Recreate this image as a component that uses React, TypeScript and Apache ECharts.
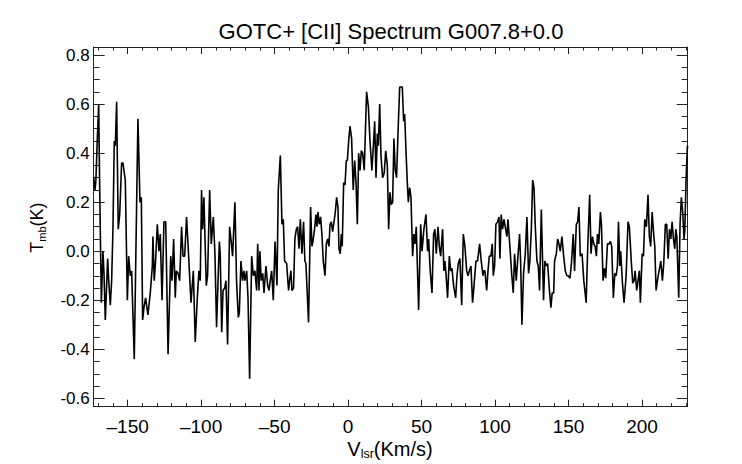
import React, { useEffect, useRef } from "react";
import * as echarts from "echarts";

const chartTitle = "GOTC+ [CII] Spectrum G007.8+0.0";

// V_lsr (km/s) of each channel vertex
const velocity = [
  -173.1, -172.2, -171.6, -170.7, -169.7, -169.1, -167.9, -166.8, -166.1, -165.2,
  -163.6, -162.9, -161.8, -160.9, -160.0, -159.1, -158.4, -157.5, -156.4, -155.4,
  -154.1, -153.2, -151.6, -150.2, -149.3, -148.2, -147.3, -145.5, -143.0, -141.6,
  -140.7, -139.8, -138.9, -137.8, -136.2, -134.6, -133.2, -132.8, -131.9, -131.0,
  -129.8, -128.7, -127.8, -126.6, -125.3, -124.1, -122.5, -120.7, -119.8, -118.7,
  -117.6, -116.9, -115.7, -114.6, -113.3, -112.3, -111.2, -109.9, -108.5, -106.9,
  -105.3, -104.0, -102.6, -101.5, -100.6, -99.7, -99.0, -98.1, -96.5, -95.6,
  -94.2, -93.1, -91.7, -90.6, -89.5, -87.6, -87.0, -86.0, -85.1, -84.0,
  -83.1, -82.0, -80.6, -79.7, -78.6, -77.0, -75.9, -74.7, -74.0, -72.9,
  -71.8, -70.9, -70.2, -69.0, -68.1, -67.0, -65.6, -64.5, -63.4, -62.2,
  -61.5, -60.6, -60.0, -59.1, -58.1, -57.2, -55.9, -54.7, -53.8, -53.2,
  -52.0, -50.9, -49.7, -48.4, -47.5, -46.1, -45.0, -44.1, -43.2, -41.8,
  -40.5, -39.8, -38.9, -38.2, -37.1, -36.2, -35.2, -34.3, -33.4, -32.5,
  -31.4, -30.3, -29.4, -28.7, -27.8, -26.9, -25.5, -24.6, -23.9, -22.8,
  -21.9, -21.2, -20.5, -19.6, -18.7, -17.8, -16.9, -15.7, -14.8, -13.9,
  -13.0, -12.3, -11.4, -10.5, -9.8, -8.7, -7.8, -6.9, -6.2, -5.3,
  -4.6, -4.0, -3.0, -2.1, -1.2, -0.5, 0.4, 1.3, 2.4, 3.5,
  4.5, 5.4, 6.3, 7.2, 8.1, 9.0, 9.9, 11.0, 12.6, 13.8,
  14.9, 16.2, 17.2, 18.1, 19.0, 19.9, 20.6, 21.5, 22.4, 23.5,
  24.6, 25.6, 26.7, 27.6, 28.5, 29.4, 30.3, 31.2, 32.1, 33.0,
  33.9, 35.1, 36.0, 36.9, 37.8, 38.5, 39.4, 40.3, 41.0, 41.9,
  42.8, 43.9, 44.8, 45.5, 46.4, 48.0, 49.4, 50.3, 51.6, 53.0,
  54.1, 54.8, 55.9, 57.1, 58.2, 59.1, 60.0, 61.2, 62.1, 63.0,
  64.3, 65.2, 65.9, 66.6, 67.7, 68.9, 69.8, 70.7, 71.8, 73.2,
  74.1, 75.0, 76.1, 77.3, 78.4, 79.5, 80.7, 81.6, 82.5, 83.6,
  84.7, 85.7, 87.0, 88.1, 89.5, 90.6, 91.8, 92.2, 93.1, 94.3,
  95.2, 96.1, 97.2, 98.1, 98.8, 99.7, 100.6, 101.7, 102.7, 103.3,
  104.2, 105.1, 106.1, 107.2, 108.1, 108.8, 110.1, 111.3, 112.4, 113.3,
  114.4, 115.6, 116.7, 117.4, 118.3, 119.4, 120.6, 121.7, 122.8, 123.7,
  124.7, 125.6, 126.5, 127.4, 128.5, 129.4, 130.3, 131.5, 133.0, 133.9,
  134.9, 135.8, 136.9, 138.0, 138.9, 139.9, 140.5, 141.7, 142.6, 143.5,
  144.4, 145.5, 146.7, 147.8, 148.9, 149.8, 151.0, 152.1, 153.2, 154.1,
  155.3, 156.2, 157.1, 158.0, 159.2, 160.4, 162.0, 163.1, 164.4, 165.3,
  166.3, 167.2, 168.1, 169.0, 169.7, 170.6, 171.7, 172.4, 173.5, 174.4,
  175.3, 176.5, 177.6, 178.5, 179.4, 180.5, 181.5, 182.4, 183.3, 184.0,
  184.9, 185.5, 186.7, 187.8, 189.2, 190.5, 191.4, 192.8, 193.7, 194.6,
  195.3, 196.4, 197.3, 198.2, 198.9, 200.1, 201.0, 201.9, 203.0, 204.1,
  205.0, 205.9, 206.9, 207.8, 208.7, 209.6, 210.5, 211.6, 212.8, 213.9,
  214.8, 215.9, 216.8, 217.8, 218.7, 219.6, 220.5, 221.4, 222.3, 223.0,
  223.7, 225.0, 225.9, 226.8, 227.7, 228.6, 229.1, 230.0, 230.9, 231.1,
];

// T_mb (K) at each vertex
const tmb = [
  0.30, 0.25, 0.29, 0.45, 0.60, 0.29, -0.21, 0.00, -0.09, -0.28,
  -0.03, -0.12, -0.22, -0.12, 0.09, 0.45, 0.43, 0.61, 0.09, 0.15,
  0.36, 0.36, 0.29, -0.20, -0.02, -0.10, -0.08, -0.44, 0.54, 0.20,
  0.22, -0.28, -0.23, -0.19, -0.26, -0.17, -0.06, 0.06, -0.12, -0.04,
  0.11, 0.00, 0.07, -0.20, 0.12, 0.12, -0.42, -0.02, -0.12, 0.05,
  -0.19, -0.08, -0.09, -0.12, 0.10, -0.02, -0.02, 0.14, -0.02, -0.21,
  -0.08, -0.37, -0.19, -0.08, -0.12, 0.25, 0.09, 0.22, -0.14, -0.10,
  0.25, 0.03, 0.14, -0.01, -0.31, 0.04, -0.01, -0.33, -0.16, -0.15,
  -0.12, -0.38, 0.10, 0.05, -0.02, 0.20, -0.12, -0.27, -0.25, -0.04,
  -0.12, -0.08, -0.12, -0.08, -0.19, -0.52, -0.02, -0.10, -0.08, -0.16,
  0.03, -0.16, 0.00, -0.12, -0.09, -0.17, -0.06, -0.14, -0.16, -0.13,
  -0.08, -0.20, 0.04, -0.14, 0.25, 0.39, 0.11, 0.13, -0.04, -0.05,
  -0.16, -0.12, -0.08, -0.16, -0.15, 0.05, 0.09, 0.10, 0.01, 0.13,
  -0.01, 0.12, -0.04, -0.05, -0.17, -0.29, 0.18, 0.02, 0.04, 0.09,
  0.15, 0.10, 0.16, 0.11, 0.14, 0.07, -0.04, -0.10, 0.03, 0.05,
  0.02, 0.11, 0.12, 0.08, 0.11, 0.16, 0.22, 0.18, 0.01, -0.01,
  0.07, 0.02, 0.28, 0.27, 0.37, 0.37, 0.45, 0.51, 0.46, 0.25,
  0.37, 0.28, 0.11, 0.40, 0.33, 0.41, 0.40, 0.33, 0.65, 0.59,
  0.45, 0.33, 0.43, 0.53, 0.30, 0.48, 0.43, 0.60, 0.39, 0.30,
  0.32, 0.41, 0.35, 0.09, 0.24, 0.19, 0.20, 0.46, 0.33, 0.30,
  0.47, 0.67, 0.67, 0.67, 0.53, 0.56, 0.41, 0.28, 0.20, 0.26,
  0.22, -0.02, 0.07, 0.03, 0.10, -0.24, 0.11, 0.00, 0.09, 0.15,
  0.00, 0.05, -0.08, -0.17, 0.07, 0.09, -0.01, 0.10, 0.02, -0.02,
  0.09, -0.08, -0.04, -0.09, -0.19, -0.02, -0.08, -0.07, -0.14, -0.19,
  -0.10, -0.05, -0.03, -0.22, 0.07, 0.02, -0.08, -0.10, -0.08, -0.06,
  -0.21, -0.14, -0.04, -0.04, 0.03, -0.04, -0.10, -0.08, -0.08, -0.16,
  -0.08, -0.02, -0.02, 0.03, -0.10, -0.06, 0.11, 0.12, 0.14, -0.03,
  0.15, 0.09, 0.13, 0.09, 0.06, 0.13, 0.02, -0.09, -0.17, -0.01,
  -0.12, -0.02, 0.07, -0.04, -0.30, -0.09, -0.01, 0.14, -0.09, -0.04,
  0.09, 0.29, 0.26, 0.10, -0.04, -0.06, -0.16, 0.17, -0.20, -0.04,
  -0.06, -0.05, -0.15, -0.23, -0.17, -0.17, -0.04, -0.01, 0.05, 0.03,
  0.00, 0.06, -0.02, -0.08, -0.10, -0.10, -0.11, -0.04, 0.07, -0.08,
  0.11, 0.12, 0.18, -0.02, -0.01, -0.12, -0.21, 0.02, 0.23, -0.01,
  0.06, 0.03, 0.02, -0.02, 0.07, 0.03, 0.16, 0.11, -0.12, -0.07,
  -0.11, 0.03, 0.03, 0.04, 0.02, -0.19, -0.09, -0.10, -0.06, 0.12,
  -0.06, 0.00, -0.13, -0.21, -0.10, 0.12, 0.10, -0.05, -0.13, -0.12,
  -0.08, -0.16, -0.12, -0.08, -0.21, -0.01, -0.02, 0.13, 0.10, 0.23,
  0.06, 0.02, 0.16, 0.08, 0.02, -0.16, -0.12, -0.08, -0.04, -0.12,
  -0.05, 0.11, 0.11, -0.03, 0.09, 0.05, 0.12, 0.05, 0.01, 0.09,
  0.06, -0.19, 0.11, 0.22, 0.16, 0.05, 0.08, 0.29, 0.43, 0.42,
];

const xRange = [-173.1, 231.1];
const yRange = [-0.634, 0.833];

export default function App() {
  const ref = useRef<HTMLDivElement>(null);

  useEffect(() => {
    if (!ref.current) return;
    const chart = echarts.init(ref.current, null, { renderer: "svg" });
    const font = "'Liberation Sans', Arial, Helvetica, sans-serif";
    const ink = "#000000";
    const frame = "#222";
    const data = velocity.map((v, i) => [v, tmb[i]]);

    const xFmt = (v: number) => (v < 0 ? "\u2013" + Math.abs(v) : String(v));
    const yFmt = (v: number) => v.toFixed(1);

    const xAxisDef = (position: string, major: boolean, labels: boolean) => ({
      type: "value",
      position,
      min: xRange[0],
      max: xRange[1],
      splitNumber: major ? 8 : 40,
      axisLine: { show: major, onZero: false, lineStyle: { color: frame, width: 1 } },
      axisTick: { show: true, inside: true, length: major ? 7 : 3.5, lineStyle: { color: frame, width: 1 } },
      axisLabel: {
        show: labels,
        showMinLabel: false,
        showMaxLabel: false,
        margin: 10,
        fontSize: 19,
        fontFamily: font,
        color: ink,
        formatter: xFmt,
      },
      splitLine: { show: false },
      minorTick: { show: false },
    });

    const yAxisDef = (position: string, major: boolean, labels: boolean) => ({
      type: "value",
      position,
      min: yRange[0],
      max: yRange[1],
      splitNumber: major ? 7 : 29,
      axisLine: { show: major, onZero: false, lineStyle: { color: frame, width: 1 } },
      axisTick: { show: true, inside: true, length: major ? 11 : 6, lineStyle: { color: frame, width: 1 } },
      axisLabel: {
        show: labels,
        showMinLabel: false,
        showMaxLabel: false,
        margin: 4,
        fontSize: 17,
        fontFamily: font,
        color: ink,
        formatter: yFmt,
      },
      splitLine: { show: false },
      minorTick: { show: false },
    });

    chart.setOption({
      animation: false,
      backgroundColor: "#fff",
      grid: { left: 93.7, right: 54.3, top: 47, bottom: 57.3, containLabel: false },
      xAxis: [
        xAxisDef("bottom", true, true),
        xAxisDef("bottom", false, false),
        xAxisDef("top", true, false),
        xAxisDef("top", false, false),
      ],
      yAxis: [
        yAxisDef("left", true, true),
        yAxisDef("left", false, false),
        yAxisDef("right", true, false),
        yAxisDef("right", false, false),
      ],
      graphic: [
        {
          type: "text",
          x: 391,
          y: 31,
          style: {
            text: chartTitle,
            fontSize: 22,
            fontFamily: font,
            fill: ink,
            align: "center",
            verticalAlign: "middle",
          },
        },
        {
          type: "text",
          x: 390,
          y: 449,
          style: {
            text: "{a|V}{b|lsr}{a|(Km/s)}",
            fill: ink,
            align: "center",
            verticalAlign: "middle",
            rich: {
              a: { fontSize: 20, fontFamily: font, fill: ink, lineHeight: 22, verticalAlign: "middle" },
              b: { fontSize: 12.5, fontFamily: font, fill: ink, lineHeight: 12, verticalAlign: "bottom" },
            },
          },
        },
        {
          type: "text",
          x: 36.5,
          y: 227.5,
          rotation: Math.PI / 2,
          style: {
            text: "{a|T}{b|mb}{a|(K)}",
            fill: ink,
            align: "center",
            verticalAlign: "middle",
            rich: {
              a: { fontSize: 18, fontFamily: font, fill: ink, color: ink, lineHeight: 21, verticalAlign: "middle" },
              b: { fontSize: 11, fontFamily: font, fill: ink, color: ink, lineHeight: 11, verticalAlign: "bottom" },
            },
          },
        },
      ],
      series: [
        {
          type: "line",
          xAxisIndex: 0,
          yAxisIndex: 0,
          data,
          showSymbol: false,
          symbol: "none",
          clip: true,
          lineStyle: { color: ink, width: 1.6 },
          silent: true,
        },
      ],
    });

    return () => chart.dispose();
  }, []);

  return (
    <div
      ref={ref}
      style={{ position: "absolute", left: 0, top: 0, width: 742, height: 464, background: "#fff" }}
    />
  );
}
